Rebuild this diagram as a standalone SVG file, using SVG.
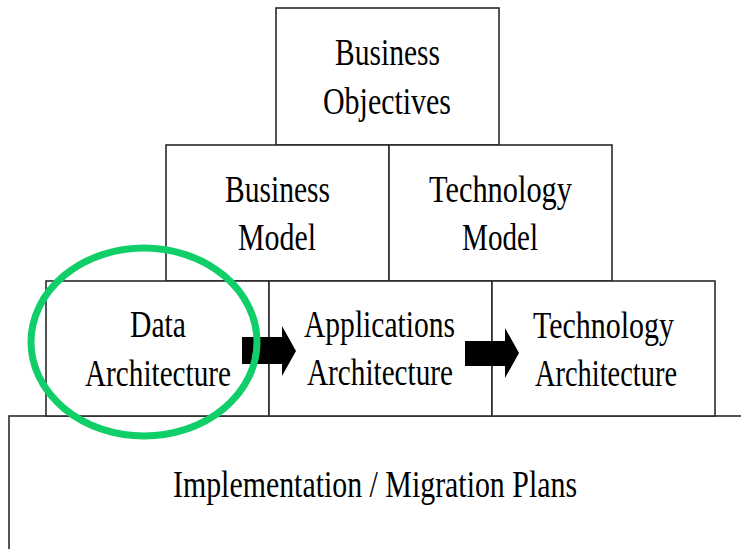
<svg xmlns="http://www.w3.org/2000/svg" width="741" height="549" viewBox="0 0 741 549">
<style>
.box{fill:#fff;stroke:#2a2a2a;stroke-width:1.6}
.t{font-family:"Liberation Serif","Times New Roman",serif;font-size:38px;fill:#000}
.arrow{fill:#000}
</style>
<rect width="741" height="549" fill="#fff"/>
<g id="implementation">
<rect class="box" x="9" y="416" width="745" height="150"/>
<text class="t" x="173" y="497" textLength="404" lengthAdjust="spacingAndGlyphs">Implementation / Migration Plans</text>
</g>
<g id="business-objectives">
<rect class="box" x="276" y="8" width="223" height="137"/>
<text class="t" x="335" y="65" textLength="105" lengthAdjust="spacingAndGlyphs">Business</text>
<text class="t" x="323" y="114" textLength="128" lengthAdjust="spacingAndGlyphs">Objectives</text>
</g>
<g id="business-model">
<rect class="box" x="166" y="145" width="223" height="136"/>
<text class="t" x="225" y="202" textLength="105" lengthAdjust="spacingAndGlyphs">Business</text>
<text class="t" x="238" y="250" textLength="78" lengthAdjust="spacingAndGlyphs">Model</text>
</g>
<g id="technology-model">
<rect class="box" x="389" y="145" width="223" height="136"/>
<text class="t" x="429" y="202" textLength="143" lengthAdjust="spacingAndGlyphs">Technology</text>
<text class="t" x="462" y="250" textLength="76" lengthAdjust="spacingAndGlyphs">Model</text>
</g>
<g id="data-architecture">
<rect class="box" x="46" y="281" width="223" height="135"/>
<text class="t" x="130" y="337" textLength="56" lengthAdjust="spacingAndGlyphs">Data</text>
<text class="t" x="85" y="386" textLength="146" lengthAdjust="spacingAndGlyphs">Architecture</text>
</g>
<g id="applications-architecture">
<rect class="box" x="269" y="281" width="223" height="135"/>
<text class="t" x="304" y="337" textLength="151" lengthAdjust="spacingAndGlyphs">Applications</text>
<text class="t" x="307" y="385" textLength="146" lengthAdjust="spacingAndGlyphs">Architecture</text>
</g>
<g id="technology-architecture">
<rect class="box" x="492" y="281" width="223" height="135"/>
<text class="t" x="533" y="338" textLength="141" lengthAdjust="spacingAndGlyphs">Technology</text>
<text class="t" x="535" y="386" textLength="142" lengthAdjust="spacingAndGlyphs">Architecture</text>
</g>
<g id="connectors">
<polygon class="arrow" points="242,337 282,337 282,326 296,351 282,376 282,364 242,364"/>
<polygon class="arrow" points="465,341 505,341 505,328 519,353 505,378 505,366 465,366"/>
</g>
<g id="highlight">
<ellipse cx="144" cy="342" rx="113" ry="94" fill="none" stroke="#10cf69" stroke-width="7"/>
</g>
</svg>
